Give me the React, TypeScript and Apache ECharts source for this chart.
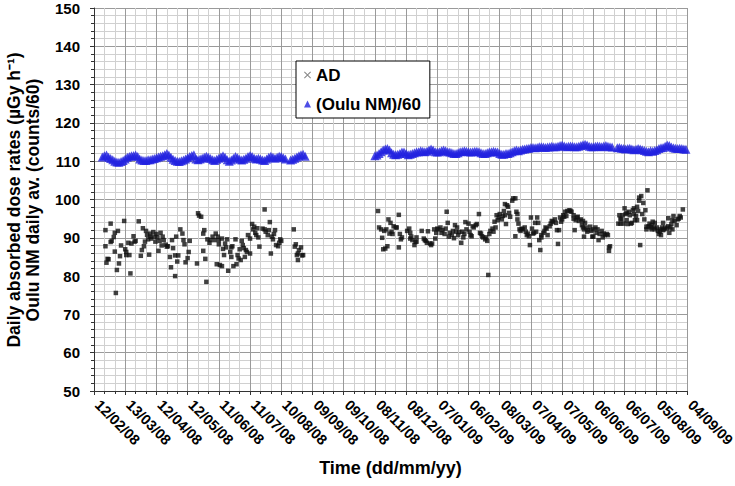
import React, { useEffect, useRef } from "react";
import * as echarts from "echarts";

// x values are days since 12/02/08; one major tick every 30 days
const tickLabels = [
  "12/02/08", "13/03/08", "12/04/08", "12/05/08", "11/06/08", "11/07/08", "10/08/08",
  "09/09/08", "09/10/08", "08/11/08", "08/12/08", "07/01/09", "06/02/09", "08/03/09",
  "07/04/09", "07/05/09", "06/06/09", "06/07/09", "05/08/09", "04/09/09",
];

// AD daily absorbed dose rates: [day, value]
const adSeg1: [number, number][] = [
  [11, 92.0], [11, 87.8], [12, 83.5], [13, 84.5], [14, 84.4], [16, 93.7], [16, 88.9], [17, 89.2],
  [19, 90.2], [20, 91.3], [20, 86.4], [21, 75.6], [22, 81.6], [23, 91.8], [24, 83.3], [25, 85.2],
  [26, 88.0], [29, 94.4], [30, 87.0], [31, 86.3], [31, 85.5], [33, 88.7], [34, 85.5], [35, 80.7],
  [36, 88.5], [38, 90.4], [39, 89.0], [40, 89.2], [43, 94.3], [45, 85.3], [46, 86.8], [47, 92.5],
  [48, 87.8], [49, 89.0], [50, 91.8], [51, 90.8], [52, 89.6], [53, 85.6], [54, 90.3], [54, 91.1],
  [55, 89.8], [57, 91.5], [58, 90.3], [59, 89.0], [60, 91.0], [61, 90.1], [62, 86.6], [63, 89.2],
  [64, 91.3], [65, 88.0], [66, 90.3], [67, 89.4], [69, 88.2], [70, 87.7], [71, 87.8], [73, 85.0],
  [74, 82.3], [75, 89.4], [76, 87.3], [78, 80.0], [78, 85.4], [79, 90.3], [80, 83.8], [81, 85.4],
  [83, 92.2], [85, 91.1], [86, 89.4], [87, 88.3], [88, 83.6], [90, 84.7], [91, 86.3], [92, 89.2],
  [99, 83.3], [100, 96.4], [101, 95.8], [103, 95.5], [105, 86.6], [105, 91.1], [106, 92.0],
  [107, 84.5], [108, 78.5], [109, 89.6], [111, 88.7], [112, 89.4], [114, 90.3], [116, 89.4],
  [117, 91.1], [118, 83.1], [119, 90.3], [120, 89.4], [120, 88.3], [121, 82.9], [123, 82.6],
  [123, 89.8], [124, 87.1], [125, 85.5], [126, 88.5], [127, 87.5], [128, 89.6], [129, 81.4],
  [131, 86.3], [132, 87.5], [132, 85.0], [133, 87.8], [134, 82.6], [136, 89.6], [137, 83.1],
  [138, 85.5], [139, 84.6], [140, 87.0], [141, 84.2], [142, 89.2], [143, 88.1], [144, 87.3],
  [145, 85.0], [146, 86.8], [147, 86.3], [148, 90.7], [150, 85.9], [150, 89.8], [152, 93.6],
  [153, 92.2], [154, 92.9], [155, 91.3], [156, 90.7], [157, 92.5], [158, 90.1], [159, 87.7],
  [162, 92.4], [164, 97.4], [164, 92.2], [165, 91.6], [167, 90.7], [168, 92.0], [169, 94.1],
  [170, 85.9], [171, 90.3], [172, 89.6], [173, 91.0], [174, 92.0], [175, 88.1], [177, 87.8],
  [178, 88.7], [179, 89.6], [180, 89.2],
];
const adSeg2: [number, number][] = [
  [192, 92.2], [193, 87.7], [194, 88.3], [195, 85.5], [196, 84.2], [196, 85.9], [197, 86.8],
  [199, 87.5], [200, 85.4], [201, 85.5],
];
const adSeg3: [number, number][] = [
  [273, 97.0], [274, 92.7], [276, 92.2], [277, 90.0], [278, 87.0], [279, 91.8], [280, 87.2],
  [281, 92.2], [282, 87.8], [283, 94.8], [284, 91.1], [285, 93.9], [286, 91.6], [287, 91.0],
  [288, 93.0], [290, 92.7], [291, 92.7], [293, 96.0], [293, 87.5], [294, 91.0], [295, 89.6],
  [296, 90.1], [301, 91.8], [303, 92.4], [304, 91.3], [304, 89.8], [305, 90.3], [306, 89.4],
  [308, 88.1], [309, 88.9], [310, 90.1], [310, 89.0], [315, 91.8], [317, 89.8], [318, 89.4],
  [319, 89.2], [320, 88.7], [321, 91.7], [323, 88.5], [324, 88.1], [325, 88.5], [327, 92.2],
  [328, 89.8], [329, 91.3], [330, 92.4], [331, 92.2], [333, 92.7], [334, 91.3], [335, 92.0],
  [337, 91.0], [338, 92.4], [339, 96.8], [340, 93.9], [341, 90.3], [342, 91.3], [344, 90.7],
  [345, 91.8], [346, 89.9], [347, 93.3], [348, 91.6], [349, 92.7], [350, 90.7], [351, 91.5],
  [353, 88.7], [354, 91.6], [355, 90.1], [356, 91.0], [357, 94.1], [358, 92.2], [360, 93.7],
  [361, 91.6], [362, 90.7], [363, 90.4], [364, 93.0], [365, 92.7], [367, 93.3], [368, 93.6],
  [370, 96.2], [371, 91.3], [372, 91.1], [373, 90.4], [374, 90.1], [376, 89.6], [377, 90.1],
  [378, 89.2], [379, 80.3], [380, 91.0], [381, 91.8], [383, 92.4], [384, 91.6], [385, 94.2],
  [386, 92.7], [387, 95.9], [388, 94.6], [389, 95.3], [390, 96.2], [392, 94.8], [393, 95.7],
  [394, 97.0], [395, 95.9], [395, 98.8], [396, 93.6], [397, 98.5], [398, 98.1], [399, 96.5],
  [400, 95.5], [402, 99.7], [403, 100.3], [405, 100.3], [405, 90.4], [406, 96.8], [407, 96.2],
  [407, 94.8], [408, 93.7], [409, 92.2], [410, 91.8], [411, 92.4], [412, 92.2], [414, 92.7],
  [415, 91.6], [416, 90.7], [417, 91.1], [418, 90.4], [419, 88.1], [420, 95.3], [421, 92.4],
  [422, 91.1], [423, 91.3], [424, 93.9], [425, 91.6], [426, 95.3], [427, 93.9], [428, 89.4],
  [429, 86.8], [430, 90.1], [430, 90.7], [432, 91.3], [433, 91.8], [434, 92.7], [435, 92.4],
  [436, 90.7], [438, 93.0], [439, 93.7], [440, 94.4], [441, 94.2], [443, 94.8], [444, 93.9],
  [445, 92.0], [446, 88.4], [447, 92.0], [448, 95.3], [449, 94.2], [450, 94.8], [451, 95.9],
  [452, 95.5], [453, 96.8], [454, 95.7], [455, 97.0], [457, 97.2], [458, 97.0], [459, 96.8],
  [461, 95.9], [461, 95.0], [462, 92.0], [463, 94.6], [464, 95.3], [465, 95.5], [466, 94.4],
  [468, 94.8], [469, 93.3], [470, 92.7], [470, 94.4], [471, 90.3], [471, 92.2], [472, 93.9],
  [473, 92.7], [474, 91.6], [475, 92.0], [477, 92.9], [478, 91.8], [479, 90.3], [480, 92.2],
  [480, 90.3], [482, 92.7], [483, 91.3], [484, 92.2], [485, 89.4], [486, 91.0], [488, 91.8],
  [489, 90.1], [490, 91.1], [491, 90.7], [493, 91.0], [494, 90.7], [495, 86.6], [495, 87.5],
  [496, 87.8],
];
const adSeg4: [number, number][] = [
  [504, 93.7], [505, 95.9], [506, 95.0], [506, 93.7], [507, 94.8], [508, 95.9], [509, 93.7],
  [510, 97.7], [511, 96.2], [512, 94.6], [512, 96.5], [513, 93.6], [514, 96.8], [515, 95.9],
  [516, 93.7], [517, 93.9], [518, 97.2], [519, 96.2], [519, 97.7], [520, 94.6], [521, 95.7],
  [522, 98.1], [522, 94.6], [523, 97.0], [524, 99.7], [524, 100.5], [525, 88.1], [526, 100.9],
  [527, 96.2], [528, 99.1], [529, 94.8], [530, 97.2], [531, 92.9], [531, 92.2], [532, 102.4],
  [533, 93.0], [534, 93.7], [535, 92.7], [536, 92.2], [536, 93.3], [537, 94.2], [538, 92.7],
  [539, 93.9], [539, 92.2], [541, 92.7], [542, 91.8], [543, 91.0], [544, 92.2], [544, 91.6],
  [545, 90.7], [546, 92.7], [547, 92.0], [547, 93.9], [548, 92.2], [549, 92.7], [551, 92.4],
  [552, 93.0], [552, 95.1], [553, 91.3], [554, 92.7], [555, 93.6], [556, 94.6], [556, 92.2],
  [557, 95.7], [558, 94.4], [560, 93.3], [561, 94.8], [562, 95.0], [563, 95.7], [564, 95.3],
  [566, 97.4],
];

// (Oulu NM)/60 daily averages, one value read every 2 days from each segment's first day
const ouluSeg1Start = 8;
const ouluSeg1 = [
  111.1, 111.4, 111.6, 111.0, 110.7, 110.4, 110.0, 109.8, 109.7, 109.9, 110.2, 110.6, 111.0,
  111.2, 111.4, 111.5, 111.6, 111.2, 110.6, 110.3, 110.2, 110.2, 110.4, 110.4, 110.6, 110.7,
  110.9, 111.1, 111.3, 111.4, 111.7, 112.0, 111.6, 111.0, 110.5, 110.2, 110.0, 109.9, 110.1,
  110.3, 110.6, 110.9, 111.2, 111.5, 111.7, 110.6, 110.4, 110.6, 110.8, 111.0, 111.3, 111.0,
  110.7, 110.4, 110.2, 110.5, 110.8, 111.1, 111.4, 111.0, 110.4, 110.0, 110.3, 110.8, 111.2,
  110.9, 110.5, 110.3, 110.5, 110.8, 111.2, 111.5, 111.2, 110.8, 110.6, 110.8, 110.6, 110.3,
  110.2, 110.6, 111.0, 111.3, 111.0, 110.8, 111.0, 111.3, 111.2, 110.9, 110.6,
];
const ouluSeg2Start = 189;
const ouluSeg2 = [110.3, 110.5, 110.8, 111.1, 111.4, 111.7, 111.8, 111.3];
const ouluSeg3Start = 270;
const ouluSeg3 = [
  111.4, 111.6, 112.0, 112.5, 112.9, 113.2, 113.3, 112.9, 112.2, 111.8, 111.7, 111.8, 112.0,
  112.4, 112.4, 112.0, 111.7, 111.8, 112.0, 112.2, 112.4, 112.5, 112.7, 112.6, 112.5, 112.6,
  112.9, 113.2, 112.9, 112.5, 112.4, 112.5, 112.7, 112.9, 112.7, 112.5, 112.4, 112.2, 112.0,
  112.0, 112.2, 112.5, 112.6, 112.7, 112.6, 112.5, 112.4, 112.5, 112.6, 112.6, 112.5, 112.2,
  112.0, 112.0, 112.2, 112.4, 112.5, 112.6, 112.5, 112.4, 112.0, 111.8, 111.8, 112.0, 112.0,
  112.2, 112.5, 112.7, 112.9, 112.7, 112.9, 113.1, 113.2, 113.3, 113.4, 113.6, 113.6, 113.5,
  113.6, 113.8, 113.8, 113.7, 113.6, 113.7, 113.8, 113.9, 113.8, 113.8, 113.9, 114.1, 114.2,
  114.0, 113.8, 113.9, 114.0, 113.9, 113.8, 113.8, 113.9, 114.1, 114.3, 114.4, 114.2, 113.9,
  113.8, 113.8, 113.9, 114.0, 113.9, 113.8, 114.0, 114.1, 113.9, 113.8, 113.7,
];
const ouluSeg4Start = 503;
const ouluSeg4 = [
  113.5, 113.6, 113.4, 113.3, 113.2, 113.3, 113.4, 113.2, 113.0, 113.1, 113.3, 113.2, 113.0,
  112.8, 112.6, 112.5, 112.7, 112.6, 112.8, 113.0, 113.3, 113.5, 113.6, 113.9, 114.2, 114.1,
  113.7, 113.5, 113.4, 113.3, 113.4, 113.3, 113.2, 113.1,
];

const FONT = "'Liberation Sans', Arial, Helvetica, sans-serif";
const AD_NAME = "AD";
const OULU_NAME = "(Oulu NM)/60";
const X_ICON = "path://M0,1L1,0L5,4L9,0L10,1L6,5L10,9L9,10L5,6L1,10L0,9L4,5Z";

function segPairs(start: number, vals: number[]): [number, number][] {
  return vals.map((v, i) => [start + i * 2, v]);
}

export default function App() {
  const ref = useRef<HTMLDivElement>(null);
  useEffect(() => {
    if (!ref.current) return;
    const chart = echarts.init(ref.current, null, { renderer: "svg" });
    const adData = [...adSeg1, ...adSeg2, ...adSeg3, ...adSeg4];
    const ouluData = [
      ...segPairs(ouluSeg1Start, ouluSeg1),
      ...segPairs(ouluSeg2Start, ouluSeg2),
      ...segPairs(ouluSeg3Start, ouluSeg3),
      ...segPairs(ouluSeg4Start, ouluSeg4),
    ];
    chart.setOption({
      animation: false,
      backgroundColor: "#ffffff",
      textStyle: { fontFamily: FONT },
      grid: {
        left: 94,
        right: 48,
        top: 8,
        bottom: 95,
        containLabel: false,
        outerBoundsMode: "none",
      },
      xAxis: {
        type: "value",
        min: 0,
        max: 570,
        interval: 30,
        name: "Time (dd/mm/yy)",
        nameLocation: "middle",
        nameGap: 68,
        nameTextStyle: { fontSize: 18, fontWeight: "bold", color: "#000", fontFamily: FONT },
        axisLine: { show: true, onZero: false, lineStyle: { color: "#333", width: 1 } },
        axisTick: { show: true, length: 4, lineStyle: { color: "#333" } },
        minorTick: { show: true, splitNumber: 3, length: 3, lineStyle: { color: "#333" } },
        splitLine: { show: true, lineStyle: { color: "#9a9a9a", width: 1 } },
        minorSplitLine: { show: true, lineStyle: { color: "#d0d0d0", width: 1 } },
        axisLabel: {
          rotate: -45,
          margin: 8,
          padding: [0, 0, 0, 5],
          fontSize: 14.5,
          fontWeight: "bold",
          color: "#000",
          fontFamily: FONT,
          hideOverlap: false,
          formatter: (v: number) => tickLabels[Math.round(v / 30)] ?? "",
        },
      },
      yAxis: {
        type: "value",
        min: 50,
        max: 150,
        interval: 10,
        axisLine: { show: true, lineStyle: { color: "#333", width: 1 } },
        axisTick: { show: true, length: 4, lineStyle: { color: "#333" } },
        minorTick: { show: true, splitNumber: 5, length: 3, lineStyle: { color: "#333" } },
        splitLine: { show: true, lineStyle: { color: "#9a9a9a", width: 1 } },
        minorSplitLine: { show: true, lineStyle: { color: "#d0d0d0", width: 1 } },
        axisLabel: { margin: 14, fontSize: 15, fontWeight: "bold", color: "#000", fontFamily: FONT },
      },
      legend: {
        orient: "vertical",
        left: 296,
        top: 61,
        padding: [4, 9, 4, 8],
        itemGap: 9,
        itemWidth: 7,
        itemHeight: 7,
        itemTextGap: 6,
        backgroundColor: "#ffffff",
        borderColor: "#000",
        borderWidth: 1,
        borderRadius: 0,
        textStyle: { fontSize: 17, fontWeight: "bold", color: "#000", fontFamily: FONT, lineHeight: 20 },
        data: [
          { name: AD_NAME, icon: X_ICON, itemStyle: { color: "#666" } },
          { name: OULU_NAME, icon: "triangle" },
        ],
      },
      graphic: [
        {
          type: "text",
          x: 14,
          y: 200,
          rotation: Math.PI / 2,
          style: {
            text: "Daily absorbed dose rates (\u00b5Gy h\u207b\u00b9)",
            fontSize: 17.5,
            fontWeight: "bold",
            fontFamily: FONT,
            fill: "#000",
            textAlign: "center",
            textVerticalAlign: "middle",
          },
        },
        {
          type: "text",
          x: 33,
          y: 200,
          rotation: Math.PI / 2,
          style: {
            text: "Oulu NM daily av. (counts/60)",
            fontSize: 17.5,
            fontWeight: "bold",
            fontFamily: FONT,
            fill: "#000",
            textAlign: "center",
            textVerticalAlign: "middle",
          },
        },
      ],
      series: [
        {
          name: AD_NAME,
          type: "scatter",
          data: adData,
          symbol: "rect",
          symbolSize: 4.5,
          itemStyle: { color: "#111" },
          z: 3,
        },
        {
          name: OULU_NAME,
          type: "scatter",
          data: ouluData,
          symbol: "triangle",
          symbolSize: 9,
          itemStyle: { color: "#2222e0" },
          z: 2,
        },
      ],
    });
    return () => chart.dispose();
  }, []);
  return (
    <div
      ref={ref}
      style={{ position: "absolute", left: 0, top: 0, width: 735, height: 486 }}
    />
  );
}
